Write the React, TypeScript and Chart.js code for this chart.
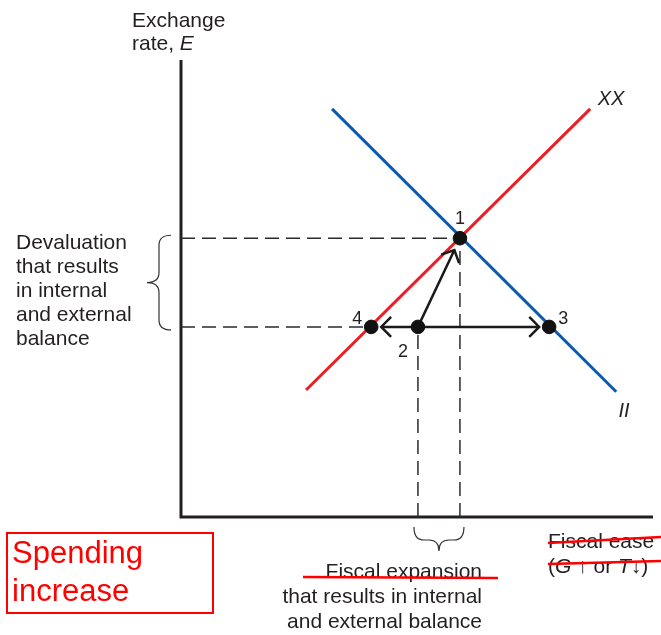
import React, { useEffect, useRef } from 'react';
import { Chart, registerables } from 'chart.js';
Chart.register(...registerables);

// Equilibrium points (data units, 0-100 on each axis)
const pointNames = ['1', '2', '3', '4'];
const pointX = [59.1, 50.2, 78.0, 40.3];
const pointY = [61.0, 41.6, 41.6, 41.6];

// Schedules
const xxX = [26.5, 86.7];
const xxY = [27.8, 89.3];
const iiX = [32.0, 92.2];
const iiY = [89.3, 27.4];

// Axes extent
const axisMax = [100, 100];

// Arrows from point 2 to points 1, 4, 3
const arrowFrom = 1;
const arrowTo = [0, 3, 2];

const FONT = "'Liberation Sans', Arial, Helvetica, sans-serif";
const INK = '#231f20';
const RED = '#ee1c25';
const BLUE = '#0a5bb0';
const MARK = '#ff0000';

const pts = (xs: number[], ys: number[]) => xs.map((x, i) => ({ x, y: ys[i] }));

export default function App() {
  const ref = useRef<HTMLCanvasElement | null>(null);

  useEffect(() => {
    const canvas = ref.current;
    if (!canvas) return;

    const dashStyle = {
      type: 'line' as const,
      borderColor: '#2b2b2b',
      borderWidth: 1.5,
      borderDash: [14, 7],
      pointRadius: 0,
      showLine: true,
      clip: false as any,
      order: 3,
    };

    const datasets: any[] = [
      // axes
      {
        type: 'line',
        data: [
          { x: 0, y: axisMax[1] },
          { x: 0, y: 0 },
          { x: axisMax[0], y: 0 },
        ],
        borderColor: INK,
        borderWidth: 3,
        borderJoinStyle: 'miter',
        pointRadius: 0,
        showLine: true,
        clip: false,
        order: 4,
      },
      // dashed guides
      { ...dashStyle, data: [{ x: 0, y: pointY[0] }, { x: pointX[0], y: pointY[0] }] },
      { ...dashStyle, data: [{ x: 0, y: pointY[3] }, { x: pointX[3], y: pointY[3] }] },
      { ...dashStyle, data: [{ x: pointX[1], y: 0 }, { x: pointX[1], y: pointY[1] }] },
      { ...dashStyle, data: [{ x: pointX[0], y: 0 }, { x: pointX[0], y: pointY[0] }] },
      // XX
      {
        type: 'line',
        data: pts(xxX, xxY),
        borderColor: RED,
        borderWidth: 3,
        pointRadius: 0,
        showLine: true,
        clip: false,
        order: 2,
      },
      // II
      {
        type: 'line',
        data: pts(iiX, iiY),
        borderColor: BLUE,
        borderWidth: 3,
        pointRadius: 0,
        showLine: true,
        clip: false,
        order: 1,
      },
      // points
      {
        type: 'scatter',
        data: pts(pointX, pointY),
        backgroundColor: '#111',
        borderColor: '#111',
        pointRadius: 6.8,
        clip: false,
        order: 0,
      },
    ];
    const pointsIndex = datasets.length - 1;

    const drawArrow = (ctx: CanvasRenderingContext2D, x0: number, y0: number, x1: number, y1: number, shorten: number) => {
      const dx = x1 - x0;
      const dy = y1 - y0;
      const len = Math.hypot(dx, dy);
      const ux = dx / len;
      const uy = dy / len;
      const tx = x1 - ux * shorten;
      const ty = y1 - uy * shorten;
      ctx.beginPath();
      ctx.moveTo(x0, y0);
      ctx.lineTo(tx, ty);
      ctx.stroke();
      const h = 14;
      const a = Math.PI / 4;
      const ang = Math.atan2(uy, ux);
      ctx.beginPath();
      ctx.moveTo(tx - h * Math.cos(ang - a), ty - h * Math.sin(ang - a));
      ctx.lineTo(tx, ty);
      ctx.lineTo(tx - h * Math.cos(ang + a), ty - h * Math.sin(ang + a));
      ctx.stroke();
    };

    const arrowPlugin = {
      id: 'arrows',
      beforeDatasetDraw(chart: any, args: any) {
        if (args.index !== pointsIndex) return;
        const { ctx, scales } = chart;
        const sx = scales.x;
        const sy = scales.y;
        ctx.save();
        ctx.strokeStyle = '#1a1a1a';
        ctx.lineWidth = 2.5;
        ctx.lineCap = 'butt';
        ctx.lineJoin = 'miter';
        const x0 = sx.getPixelForValue(pointX[arrowFrom]);
        const y0 = sy.getPixelForValue(pointY[arrowFrom]);
        arrowTo.forEach((j) => {
          const x1 = sx.getPixelForValue(pointX[j]);
          const y1 = sy.getPixelForValue(pointY[j]);
          drawArrow(ctx, x0, y0, x1, y1, j === 0 ? 13 : 10);
        });
        ctx.restore();
      },
    };

    const textPlugin = {
      id: 'texts',
      afterDraw(chart: any) {
        const { ctx, scales } = chart;
        const sx = scales.x;
        const sy = scales.y;
        ctx.save();
        ctx.fillStyle = INK;
        ctx.textBaseline = 'alphabetic';

        // Axis title
        ctx.font = `21px ${FONT}`;
        ctx.textAlign = 'left';
        ctx.fillText('Exchange', 132, 27);
        ctx.fillText('rate, ', 132, 50);
        const w = ctx.measureText('rate, ').width;
        ctx.font = `italic 21px ${FONT}`;
        ctx.fillText('E', 132 + w, 50);

        // Curve labels
        ctx.font = `italic 20px ${FONT}`;
        ctx.textAlign = 'center';
        ctx.textBaseline = 'middle';
        ctx.fillText('XX', 611, 99);
        ctx.fillText('II', 624, 411);

        // Point labels
        const offs = [
          [0, -19],
          [-15, 25],
          [14, -8],
          [-14, -8],
        ];
        ctx.font = `18px ${FONT}`;
        pointNames.forEach((n, i) => {
          const px = sx.getPixelForValue(pointX[i]);
          const py = sy.getPixelForValue(pointY[i]);
          ctx.fillText(n, px + offs[i][0], py + offs[i][1]);
        });

        // Devaluation block
        ctx.textAlign = 'left';
        ctx.textBaseline = 'alphabetic';
        ctx.font = `21px ${FONT}`;
        const dev = ['Devaluation', 'that results', 'in internal', 'and external', 'balance'];
        dev.forEach((s, i) => ctx.fillText(s, 16, 249 + i * 24));

        // Fiscal expansion block
        ctx.textAlign = 'right';
        const fe = ['Fiscal expansion', 'that results in internal', 'and external balance'];
        fe.forEach((s, i) => ctx.fillText(s, 482, 578 + i * 25));

        // Fiscal ease label
        ctx.textAlign = 'left';
        ctx.fillText('Fiscal ease', 548, 548);
        let cx = 548;
        const parts: [string, boolean][] = [
          ['(', false],
          ['G', true],
          [' \u2191 or ', false],
          ['T', true],
          ['\u2193)', false],
        ];
        parts.forEach(([s, it]) => {
          ctx.font = `${it ? 'italic ' : ''}21px ${FONT}`;
          ctx.fillText(s, cx, 573);
          cx += ctx.measureText(s).width;
        });

        // Braces
        ctx.strokeStyle = '#333';
        ctx.lineWidth = 1.2;
        const yTop = sy.getPixelForValue(pointY[0]) - 3;
        const yBot = sy.getPixelForValue(pointY[1]) + 3;
        const yC = (yTop + yBot) / 2;
        const xArm = 171;
        const xMid = 159;
        const xTip = 147;
        const r = 10;
        ctx.beginPath();
        ctx.moveTo(xArm, yTop);
        ctx.quadraticCurveTo(xMid, yTop, xMid, yTop + r);
        ctx.lineTo(xMid, yC - r);
        ctx.quadraticCurveTo(xMid, yC, xTip, yC);
        ctx.quadraticCurveTo(xMid, yC, xMid, yC + r);
        ctx.lineTo(xMid, yBot - r);
        ctx.quadraticCurveTo(xMid, yBot, xArm, yBot);
        ctx.stroke();

        const xL = sx.getPixelForValue(pointX[1]) - 4;
        const xR = sx.getPixelForValue(pointX[0]) + 4;
        const xC = (xL + xR) / 2;
        const yArm = 527;
        const yMid = 540;
        const yTip = 551;
        ctx.beginPath();
        ctx.moveTo(xL, yArm);
        ctx.quadraticCurveTo(xL, yMid, xL + r, yMid);
        ctx.lineTo(xC - r, yMid);
        ctx.quadraticCurveTo(xC, yMid, xC, yTip);
        ctx.quadraticCurveTo(xC, yMid, xC + r, yMid);
        ctx.lineTo(xR - r, yMid);
        ctx.quadraticCurveTo(xR, yMid, xR, yArm);
        ctx.stroke();

        // Red strike-throughs
        ctx.strokeStyle = MARK;
        ctx.lineWidth = 2.5;
        const strikes = [
          [303, 577, 498, 578],
          [548, 543, 661, 537],
          [548, 564, 661, 561],
        ];
        strikes.forEach(([a, b, c, d]) => {
          ctx.beginPath();
          ctx.moveTo(a, b);
          ctx.lineTo(c, d);
          ctx.stroke();
        });

        // Red box
        ctx.lineWidth = 2;
        ctx.strokeRect(7, 533, 206, 80);
        ctx.fillStyle = MARK;
        ctx.font = `31px ${FONT}`;
        ctx.textAlign = 'left';
        ctx.fillText('Spending', 12, 563);
        ctx.fillText('increase', 12, 601);

        ctx.restore();
      },
    };

    const chart = new Chart(canvas, {
      type: 'scatter',
      data: { datasets },
      options: {
        animation: false,
        responsive: false,
        events: [],
        layout: { padding: { left: 181, top: 60, right: 8, bottom: 118 } },
        scales: {
          x: { type: 'linear', min: 0, max: axisMax[0], display: false },
          y: { type: 'linear', min: 0, max: axisMax[1], display: false },
        },
        plugins: { legend: { display: false }, tooltip: { enabled: false } },
      },
      plugins: [arrowPlugin, textPlugin],
    } as any);

    return () => chart.destroy();
  }, []);

  return (
    <div style={{ position: 'absolute', left: 0, top: 0, width: 661, height: 635, background: '#fff' }}>
      <canvas ref={ref} width={661} height={635} />
    </div>
  );
}
